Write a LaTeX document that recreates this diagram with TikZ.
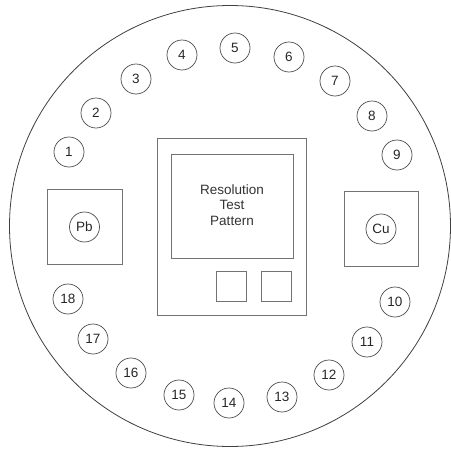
\documentclass[tikz,border=0pt]{standalone}
\usepackage{fontspec}
\setmainfont{Liberation Sans}
\begin{document}
\begin{tikzpicture}[x=1pt,y=-1pt,
  rim/.style={draw=black!75,line width=0.8pt},
  panel/.style={draw=black!55,line width=0.9pt},
  spot/.style={circle,draw=black!70,line width=0.7pt,minimum size=30pt,inner sep=0pt,
    font=\fontsize{13.5}{15}\selectfont,text=black!85},
  caption/.style={align=center,font=\fontsize{13.5}{15.5}\selectfont,text=black!80}]
\useasboundingbox (0,0) rectangle (451,450);
% outer holder
\draw[rim] (230,226) circle[radius=220.5];
% numbered sample positions
\foreach \n/\px/\py in {1/69/152,2/96/113,3/136/79,4/182/55,5/235/48,6/289/57,
  7/335/81,8/372/116,9/397/155,10/395/302,11/367/342,12/329/375,13/282/397,
  14/229/403,15/179/395,16/131/373,17/93/339,18/68/299}
  \node[spot] (p\n) at (\px,\py) {\n};
% lead reference
\draw[panel] (47,189) rectangle (122,264);
\node[spot] (pb) at (84.5,227) {Pb};
% copper reference
\draw[panel] (344,191) rectangle (418,266);
\node[spot] (cu) at (381,229) {Cu};
% central resolution target
\draw[panel] (157,138) rectangle (306,315);
\draw[panel] (171,154) rectangle (293,258);
\node[caption] (res) at (232,205) {Resolution\\Test\\Pattern};
\draw[panel] (216,271) rectangle (246,301);
\draw[panel] (261,271) rectangle (291,301);
\end{tikzpicture}
\end{document}
